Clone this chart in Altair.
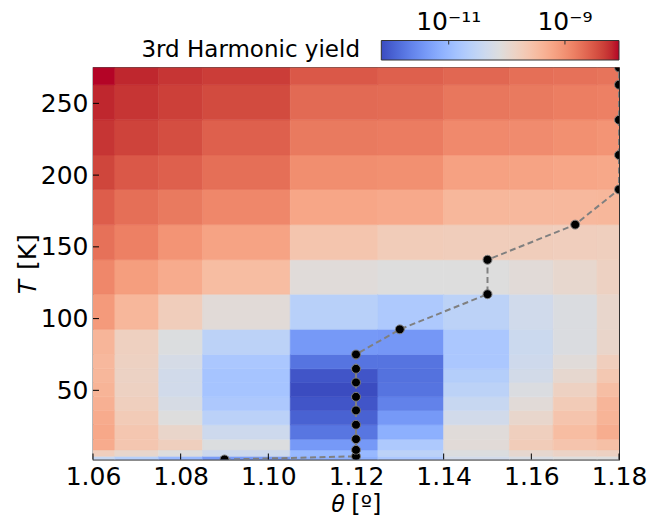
import altair as alt
import pandas as pd
import numpy as np

# theta centres of the heat-map columns (deg)
theta = [1.06, 1.07, 1.08, 1.09, 1.12, 1.13, 1.15, 1.16, 1.17, 1.18]
# temperature edges of the heat-map rows (K)
T_edges = [1.8, 4, 8.5, 16, 26, 36, 45.5, 55.5, 65, 75, 92.5, 117, 141,
           165.5, 190, 214, 238.5, 263, 275]

# log10(3rd harmonic yield), one list per theta column, rows from bottom to top
y106 = [-10.44, -9.77, -9.28, -9.24, -9.28, -9.34, -9.38, -9.42, -9.44, -9.40, -9.09, -8.91, -8.72, -8.56, -8.38, -8.27, -8.19, -8.07]
y107 = [-10.65, -9.93, -9.64, -9.64, -9.71, -9.79, -9.83, -9.85, -9.83, -9.81, -9.42, -9.13, -8.85, -8.70, -8.52, -8.36, -8.27, -8.19]
y108 = [-11.01, -10.12, -9.79, -9.91, -10.12, -10.22, -10.30, -10.30, -10.24, -10.14, -9.75, -9.28, -9.03, -8.79, -8.58, -8.44, -8.34, -8.27]
y109 = [-11.38, -10.36, -10.14, -10.36, -10.59, -10.77, -10.85, -10.85, -10.79, -10.57, -10.05, -9.50, -9.19, -8.91, -8.70, -8.58, -8.42, -8.32]
y112 = [-11.14, -11.01, -11.40, -11.77, -11.96, -12.08, -12.16, -12.08, -11.79, -11.40, -10.63, -10.07, -9.62, -9.22, -8.97, -8.79, -8.66, -8.52]
y113 = [-10.79, -10.57, -10.75, -11.14, -11.40, -11.65, -11.79, -11.81, -11.79, -11.42, -10.75, -10.12, -9.73, -9.26, -8.99, -8.81, -8.68, -8.58]
y115 = [-10.30, -10.14, -10.05, -10.07, -10.30, -10.44, -10.57, -10.67, -10.79, -10.79, -10.57, -10.12, -9.75, -9.42, -9.17, -8.93, -8.77, -8.64]
y116 = [-10.20, -9.97, -9.73, -9.79, -9.93, -10.05, -10.16, -10.28, -10.34, -10.38, -10.32, -10.05, -9.75, -9.44, -9.19, -8.95, -8.79, -8.70]
y117 = [-10.12, -9.87, -9.60, -9.50, -9.60, -9.71, -9.83, -9.97, -10.07, -10.16, -10.16, -9.95, -9.77, -9.44, -9.22, -8.99, -8.83, -8.72]
y118 = [-10.12, -9.83, -9.54, -9.30, -9.38, -9.40, -9.52, -9.66, -9.77, -9.91, -9.93, -9.83, -9.79, -9.42, -9.24, -9.03, -8.85, -8.74]
columns = [y106, y107, y108, y109, y112, y113, y115, y116, y117, y118]

# path of the minimum (dots + dashed line)
dot_theta = [1.09, 1.12, 1.12, 1.12, 1.12, 1.12, 1.12, 1.12, 1.12, 1.12,
             1.13, 1.15, 1.15, 1.17, 1.18, 1.18, 1.18, 1.18, 1.18]
dot_T = [1.8, 4, 8.5, 16, 26, 36, 45.5, 55.5, 65, 75, 92.5, 117, 141,
         165.5, 190, 214, 238.5, 263, 275]

# colour limits (log10) and colour-bar ticks
vmin, vmax = -12.16, -8.07
cbar_ticks = [-11, -9]
cbar_labels = ["10⁻¹¹", "10⁻⁹"]
x_ticks = [1.06, 1.08, 1.10, 1.12, 1.14, 1.16, 1.18]
y_ticks = [50, 100, 150, 200, 250]

coolwarm = ["#3b4cc0", "#445acc", "#4d68d7", "#5775e1", "#6282ea", "#6c8ef1",
            "#779af7", "#82a5fb", "#8db0fe", "#98b9ff", "#a3c2ff", "#aec9fd",
            "#b8d0f9", "#c2d5f4", "#ccd9ee", "#d5dbe6", "#dddddd", "#e5d8d1",
            "#ecd3c5", "#f1ccb9", "#f5c4ad", "#f7bba0", "#f7b194", "#f7a687",
            "#f49a7b", "#f18d6f", "#ec7f63", "#e57058", "#de604d", "#d55042",
            "#cb3e38", "#c0282f", "#b40426"]

W, H = 526, 392
FONT = "DejaVu Sans"

# ---- heat-map cells
edges = [theta[0] - (theta[1] - theta[0]) / 2]
edges += [(a + b) / 2 for a, b in zip(theta[:-1], theta[1:])]
edges += [theta[-1] + (theta[-1] - theta[-2]) / 2]
rows = []
for i, col in enumerate(columns):
    for j, v in enumerate(col):
        rows.append(dict(x0=edges[i], x1=edges[i + 1],
                         y0=T_edges[j], y1=T_edges[j + 1], v=v))
cells = pd.DataFrame(rows)

color_scale = alt.Scale(domain=list(np.linspace(vmin, vmax, len(coolwarm))),
                        range=coolwarm, clamp=True)
xs = alt.Scale(domain=[1.06, 1.18], nice=False, zero=False)
ys = alt.Scale(domain=[1.8, 275], nice=False, zero=False)

xaxis = alt.Axis(values=x_ticks, format=".2f", ticks=False, domain=False,
                 grid=False, labelFont=FONT, labelFontSize=25, labelColor="black",
                 labelPadding=5, labelFlush=False, labelOverlap=False,
                 title="𝜃 [º]", titleFont=FONT, titleFontSize=24,
                 titleFontWeight="normal", titleColor="black", titlePadding=3)
yaxis = alt.Axis(values=y_ticks, format="d", ticks=False, domain=False,
                 grid=False, labelFont=FONT, labelFontSize=25, labelColor="black",
                 labelPadding=5, labelFlush=False, labelOverlap=False,
                 title="𝑇 [K]", titleFont=FONT, titleFontSize=25,
                 titleFontWeight="normal", titleColor="black", titlePadding=0)

heat = alt.Chart(cells).mark_rect(clip=True, strokeWidth=0.6).encode(
    x=alt.X("x0:Q", scale=xs, axis=xaxis),
    x2="x1:Q",
    y=alt.Y("y0:Q", scale=ys, axis=yaxis),
    y2="y1:Q",
    color=alt.Color("v:Q", scale=color_scale, legend=None),
    stroke=alt.Color("v:Q", scale=color_scale, legend=None),
)

dots = pd.DataFrame(dict(th=dot_theta, T=dot_T, k=range(len(dot_T))))
line = alt.Chart(dots).mark_line(clip=True, color="#808080", strokeWidth=2,
                                 strokeDash=[6, 3.5]).encode(
    x=alt.X("th:Q", scale=xs), y=alt.Y("T:Q", scale=ys), order="k:Q")
pts = alt.Chart(dots).mark_point(clip=True, filled=True, shape="circle",
                                 size=80, fill="black", stroke="#7f7f7f",
                                 strokeWidth=1, opacity=1).encode(
    x=alt.X("th:Q", scale=xs), y=alt.Y("T:Q", scale=ys))

xt = alt.Chart(pd.DataFrame(dict(t=x_ticks))).mark_rule(color="black", strokeWidth=1).encode(
    x=alt.X("t:Q", scale=xs), y=alt.value(H), y2=alt.value(H - 6))
yt = alt.Chart(pd.DataFrame(dict(t=y_ticks))).mark_rule(color="black", strokeWidth=1).encode(
    y=alt.Y("t:Q", scale=ys), x=alt.value(0), x2=alt.value(6))

main = alt.layer(heat, line, pts, xt, yt)

# ---- colour bar drawn above the plot, on its own x scale
cb_left, cb_top, cb_bot = 288.3, -27, -7.5
dl = vmin - (vmax - vmin) * cb_left / (W - cb_left)
cbs = alt.Scale(domain=[dl, vmax], nice=False, zero=False)
grad = alt.Gradient(gradient="linear", x1=0, x2=1, y1=0, y2=0,
                    stops=[alt.GradientStop(offset=i / (len(coolwarm) - 1), color=c)
                           for i, c in enumerate(coolwarm)])
cb_rect = alt.Chart(pd.DataFrame(dict(a=[vmin], b=[vmax]))).mark_rect(
    fill=grad, stroke="#333333", strokeWidth=1).encode(
    x=alt.X("a:Q", scale=cbs, axis=None), x2="b:Q",
    y=alt.value(cb_top), y2=alt.value(cb_bot))
cbt = pd.DataFrame(dict(t=cbar_ticks, lab=cbar_labels))
cb_ticks = alt.Chart(cbt).mark_rule(color="#333333", strokeWidth=1).encode(
    x=alt.X("t:Q", scale=cbs, axis=None), y=alt.value(cb_top), y2=alt.value(cb_top + 4))
cb_labels = alt.Chart(cbt).mark_text(font=FONT, fontSize=25, color="black",
                                     align="center", baseline="alphabetic").encode(
    x=alt.X("t:Q", scale=cbs, axis=None), y=alt.value(-37.5), text="lab:N")
cb_title = alt.Chart(pd.DataFrame(dict(s=["3rd Harmonic yield"]))).mark_text(
    font=FONT, fontSize=23, color="black", align="right", baseline="alphabetic").encode(
    x=alt.value(267), y=alt.value(-10.5), text="s:N")

cbar = alt.layer(cb_rect, cb_ticks, cb_labels, cb_title)

chart = alt.layer(main, cbar).resolve_scale(
    x="independent", y="independent"
).properties(
    width=W, height=H,
    autosize=alt.AutoSizeParams(type="none"),
    padding={"left": 85, "top": 59.5, "right": 40, "bottom": 62},
).configure_view(stroke="#1a1a1a", strokeWidth=1.2)

chart.save("out.html", embed_options={"renderer": "svg", "actions": False})
